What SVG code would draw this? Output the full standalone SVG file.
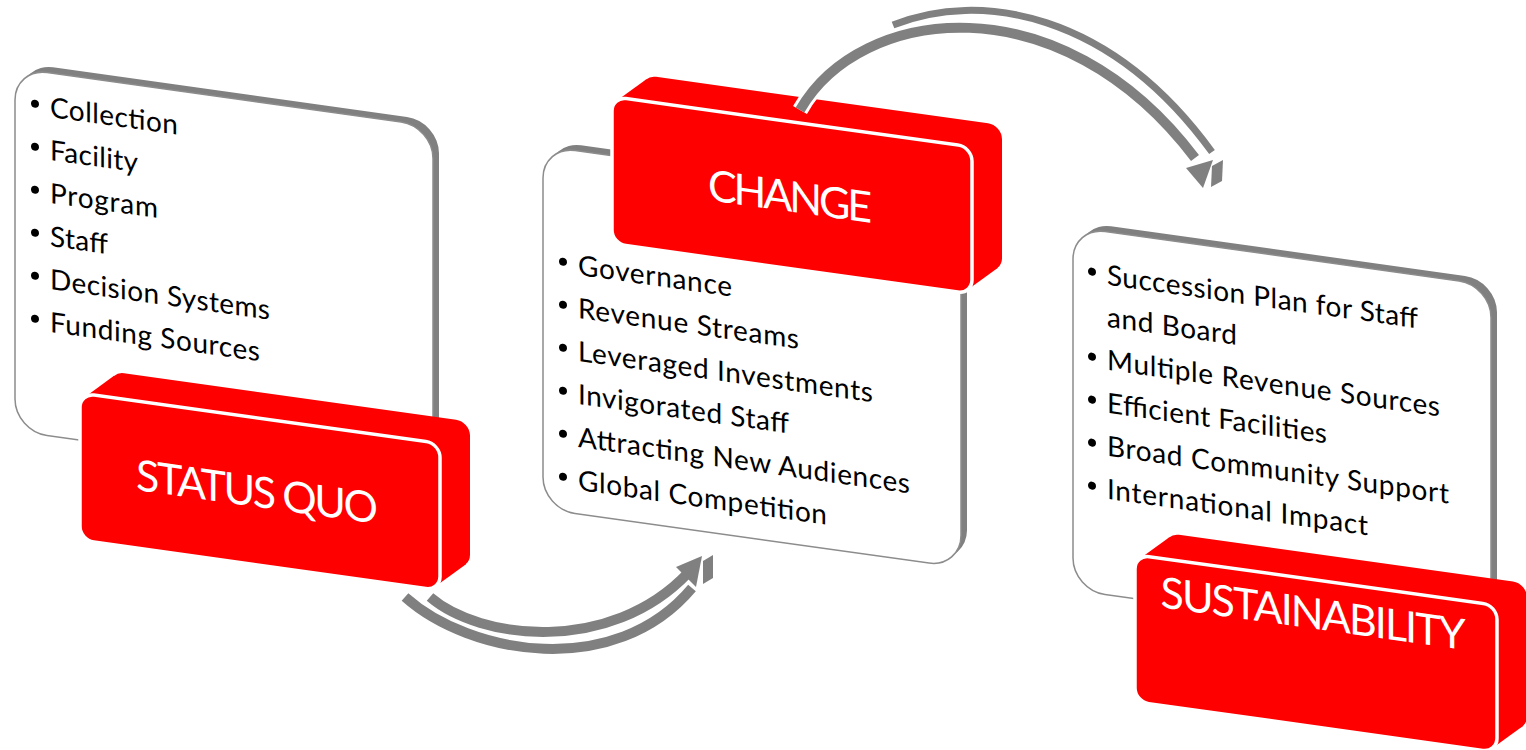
<svg xmlns="http://www.w3.org/2000/svg" width="1526" height="750" viewBox="0 0 1526 750">
  <defs>
    <style>
      .card-back { fill: #808080; }
      .card { fill: #ffffff; stroke: #8c8c8c; stroke-width: 1.5; }
      .block-side { fill: #ff0000; }
      .block-face { fill: #ff0000; stroke: #ffffff; stroke-width: 3.5; }
      .item { font-family: Lato, "Liberation Sans", sans-serif; font-size: 28px; fill: #000000; }
      .title { font-family: Lato, "Liberation Sans", sans-serif; font-size: 43px; fill: #ffffff; text-anchor: middle; }
      .dot { fill: #000000; }
      .band { fill: none; stroke: #808080; stroke-width: 10; }
      .band-thin { fill: none; stroke: #808080; stroke-width: 7; }
      .halo { fill: none; stroke: #ffffff; stroke-width: 16; }
      .head { fill: #808080; }
    </style>
  </defs>

  <!-- Stage 1 -->
  <g id="status-quo" transform="translate(15,68) skewY(7.97)">
    <rect class="card-back" x="6" y="-6" width="418" height="363" rx="32"/>
    <rect class="card" x="0" y="0" width="418" height="363" rx="32"/>
    <circle class="dot" cx="20" cy="33" r="4"/>
    <text class="item" x="35" y="44" textLength="128">Collection</text>
    <circle class="dot" cx="20" cy="76" r="4"/>
    <text class="item" x="35" y="87" textLength="88">Facility</text>
    <circle class="dot" cx="20" cy="119" r="4"/>
    <text class="item" x="35" y="130" textLength="108">Program</text>
    <circle class="dot" cx="20" cy="162" r="4"/>
    <text class="item" x="35" y="173" textLength="58">Staff</text>
    <circle class="dot" cx="20" cy="205" r="4"/>
    <text class="item" x="35" y="216" textLength="220">Decision Systems</text>
    <circle class="dot" cx="20" cy="248" r="4"/>
    <text class="item" x="35" y="259" textLength="210">Funding Sources</text>
    <!-- red block -->
    <rect class="block-side" x="95" y="290" width="360" height="147" rx="14"/>
    <polygon class="block-side" points="69,320 99,294 451,433 421,459"/>
    <rect class="block-face" x="65" y="316" width="360" height="147" rx="14"/>
    <text class="title" x="242" y="405" textLength="242">STATUS QUO</text>
  </g>

  <!-- Stage 2 -->
  <g id="change" transform="translate(543,146) skewY(7.97)">
    <rect class="card-back" x="6" y="-6" width="418" height="363" rx="32"/>
    <rect class="card" x="0" y="0" width="418" height="363" rx="32"/>
    <circle class="dot" cx="20" cy="113" r="4"/>
    <text class="item" x="35" y="124" textLength="154">Governance</text>
    <circle class="dot" cx="20" cy="156" r="4"/>
    <text class="item" x="35" y="167" textLength="221">Revenue Streams</text>
    <circle class="dot" cx="20" cy="199" r="4"/>
    <text class="item" x="35" y="210" textLength="295">Leveraged Investments</text>
    <circle class="dot" cx="20" cy="242" r="4"/>
    <text class="item" x="35" y="253" textLength="211">Invigorated Staff</text>
    <circle class="dot" cx="20" cy="285" r="4"/>
    <text class="item" x="35" y="296" textLength="332">Attracting New Audiences</text>
    <circle class="dot" cx="20" cy="328" r="4"/>
    <text class="item" x="35" y="339" textLength="249">Global Competition</text>
    <!-- red block -->
    <rect class="block-side" x="99" y="-85" width="360" height="147" rx="14"/>
    <polygon class="block-side" points="73,-55 103,-81 455,58 425,84"/>
    <rect class="block-face" x="69" y="-59" width="360" height="147" rx="14"/>
    <text class="title" x="247" y="31" textLength="164">CHANGE</text>
  </g>

  <!-- Stage 3 -->
  <g id="sustainability" transform="translate(1073,227) skewY(7.97)">
    <rect class="card-back" x="6" y="-6" width="418" height="363" rx="32"/>
    <rect class="card" x="0" y="0" width="418" height="363" rx="32"/>
    <circle class="dot" cx="19" cy="42" r="4"/>
    <text class="item" x="34" y="53" textLength="311">Succession Plan for Staff</text>
    <text class="item" x="34" y="95" textLength="130">and Board</text>
    <circle class="dot" cx="19" cy="127" r="4"/>
    <text class="item" x="34" y="138" textLength="333">Multiple Revenue Sources</text>
    <circle class="dot" cx="19" cy="170" r="4"/>
    <text class="item" x="34" y="181" textLength="220">Efficient Facilities</text>
    <circle class="dot" cx="19" cy="213" r="4"/>
    <text class="item" x="34" y="224" textLength="342">Broad Community Support</text>
    <circle class="dot" cx="19" cy="256" r="4"/>
    <text class="item" x="34" y="267" textLength="261">International Impact</text>
    <!-- red block -->
    <rect class="block-side" x="92" y="293" width="362" height="147" rx="14"/>
    <polygon class="block-side" points="66,323 96,297 450,436 420,462"/>
    <rect class="block-face" x="62" y="319" width="362" height="147" rx="14"/>
    <text class="title" x="240" y="368" textLength="305">SUSTAINABILITY</text>
  </g>

  <!-- Curved block arrows between stages -->
  <g id="connectors">
    <!-- status quo to change -->
    <path class="band" d="M 405 597 C 470 655, 615 680, 692 588"/>
    <path class="halo" d="M 430 597 C 480 640, 610 655, 688 573"/>
    <path class="band" d="M 430 597 C 480 640, 610 655, 688 573"/>
    <polygon class="head" points="676,567 702,556 696,587"/>
    <polygon class="head" points="703,561 713,555 713,578 703,584"/>

    <!-- change to sustainability -->
    <path class="band-thin" d="M 893 25 C 980 -10, 1110 12, 1212 152"/>
    <path class="halo" d="M 800 110 C 860 5, 1060 -20, 1195 158"/>
    <path class="band" d="M 800 110 C 860 5, 1060 -20, 1195 158"/>
    <polygon class="head" points="1186,168 1213,160 1203,188"/>
    <polygon class="head" points="1212,166 1223,160 1222,181 1211,187"/>
  </g>
</svg>
